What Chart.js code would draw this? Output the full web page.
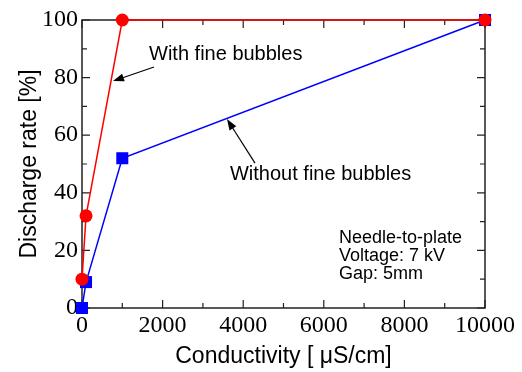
<!DOCTYPE html>
<html>
<head>
<meta charset="utf-8">
<script src="https://cdn.jsdelivr.net/npm/chart.js@4"></script>
<style>
  html, body { margin: 0; padding: 0; background: #fff; }
  #wrap { width: 522px; height: 372px; }
</style>
</head>
<body>
<div id="wrap"><canvas id="chart" width="522" height="372"></canvas></div>
<script>
const conductivity = [0, 100, 1000, 10000];
const withBubbles = [10, 32, 100, 100];
const withoutBubbles = [0, 9, 52, 100];
const xTicks = [0, 2000, 4000, 6000, 8000, 10000];
const yTicks = [0, 20, 40, 60, 80, 100];
const noteLines = ["Needle-to-plate", "Voltage: 7 kV", "Gap: 5mm"];

const serif = "'Liberation Serif', 'Times New Roman', serif";
const sans = "'Liberation Sans', Arial, sans-serif";

function toPoints(ys) {
  return conductivity.map((x, i) => ({ x: x, y: ys[i] }));
}

function arrow(ctx, x1, y1, x2, y2) {
  const ang = Math.atan2(y2 - y1, x2 - x1);
  const len = 11, half = 4;
  ctx.beginPath();
  ctx.moveTo(x1, y1);
  ctx.lineTo(x2 - Math.cos(ang) * len * 0.8, y2 - Math.sin(ang) * len * 0.8);
  ctx.stroke();
  ctx.beginPath();
  ctx.moveTo(x2, y2);
  ctx.lineTo(x2 - Math.cos(ang) * len - Math.sin(ang) * half, y2 - Math.sin(ang) * len + Math.cos(ang) * half);
  ctx.lineTo(x2 - Math.cos(ang) * len + Math.sin(ang) * half, y2 - Math.sin(ang) * len - Math.cos(ang) * half);
  ctx.closePath();
  ctx.fill();
}

const framePlugin = {
  id: "frame",
  beforeDatasetsDraw(chart) {
    const { ctx, chartArea: a, scales } = chart;
    ctx.save();
    ctx.strokeStyle = "#222";
    ctx.lineWidth = 1.5;
    ctx.strokeRect(a.left, a.top, a.right - a.left, a.bottom - a.top);
    ctx.lineWidth = 1.2;
    ctx.beginPath();
    for (let v = 0; v <= 10000; v += 1000) {
      const px = scales.x.getPixelForValue(v);
      const len = v % 2000 === 0 ? 8 : 5;
      ctx.moveTo(px, a.bottom); ctx.lineTo(px, a.bottom - len);
      ctx.moveTo(px, a.top); ctx.lineTo(px, a.top + len);
    }
    for (let v = 0; v <= 100; v += 10) {
      const py = scales.y.getPixelForValue(v);
      const len = v % 20 === 0 ? 8 : 5;
      ctx.moveTo(a.left, py); ctx.lineTo(a.left + len, py);
      ctx.moveTo(a.right, py); ctx.lineTo(a.right - len, py);
    }
    ctx.stroke();
    ctx.restore();
  },
  afterDatasetsDraw(chart) {
    const { ctx, scales } = chart;
    const X = v => scales.x.getPixelForValue(v);
    const Y = v => scales.y.getPixelForValue(v);
    ctx.save();
    ctx.fillStyle = "#000";
    ctx.strokeStyle = "#000";
    ctx.lineWidth = 1.2;
    ctx.textAlign = "left";
    ctx.textBaseline = "alphabetic";
    ctx.font = "20px " + sans;
    ctx.fillText("With fine bubbles", X(1663), Y(86.1));
    ctx.fillText("Without fine bubbles", X(3672), Y(44.4));
    arrow(ctx, X(1787), Y(83.7), X(769), Y(78.8));
    arrow(ctx, X(4293), Y(50.3), X(3598), Y(65.6));
    ctx.font = "18px " + sans;
    noteLines.forEach((t, i) => {
      ctx.fillText(t, X(6377), Y(22.6) + i * 18);
    });
    ctx.restore();
  }
};

new Chart(document.getElementById("chart"), {
  type: "scatter",
  data: {
    datasets: [{
      label: "With fine bubbles",
      data: toPoints(withBubbles),
      showLine: true,
      borderColor: "#ff0000",
      backgroundColor: "#ff0000",
      borderWidth: 1.5,
      pointStyle: "circle",
      pointRadius: 6.5,
      pointBorderWidth: 0,
      clip: false,
      order: 0
    }, {
      label: "Without fine bubbles",
      data: toPoints(withoutBubbles),
      showLine: true,
      borderColor: "#0000ff",
      backgroundColor: "#0000ff",
      borderWidth: 1.5,
      pointStyle: "rect",
      pointRadius: 8.5,
      pointBorderWidth: 0,
      clip: false,
      order: 1
    }]
  },
  options: {
    responsive: false,
    animation: false,
    layout: { padding: { top: 20, right: 37, left: 0, bottom: 0 } },
    plugins: {
      legend: { display: false },
      tooltip: { enabled: false }
    },
    scales: {
      x: {
        type: "linear",
        min: 0,
        max: 10000,
        afterBuildTicks: s => { s.ticks = xTicks.map(v => ({ value: v })); },
        afterFit: s => { s.height = 64; },
        grid: { display: false, drawTicks: false },
        border: { display: false },
        ticks: {
          padding: 3,
          color: "#000",
          maxRotation: 0,
          callback: v => String(v),
          font: { family: serif, size: 24, lineHeight: 1.2 }
        },
        title: {
          display: true,
          text: "Conductivity [ \u03bcS/cm]",
          color: "#000",
          padding: { top: 0, bottom: 2 },
          font: { family: sans, size: 23, lineHeight: 1.2 }
        }
      },
      y: {
        type: "linear",
        min: 0,
        max: 100,
        afterBuildTicks: s => { s.ticks = yTicks.map(v => ({ value: v })); },
        afterFit: s => { s.width = 82; },
        grid: { display: false, drawTicks: false },
        border: { display: false },
        ticks: {
          padding: 4,
          color: "#000",
          callback: v => String(v),
          font: { family: serif, size: 24, lineHeight: 1.2 }
        },
        title: {
          display: true,
          text: "Discharge rate [%]",
          color: "#000",
          padding: { top: 16, bottom: 0 },
          font: { family: sans, size: 23, lineHeight: 1.2 }
        }
      }
    }
  },
  plugins: [framePlugin]
});
</script>
</body>
</html>
